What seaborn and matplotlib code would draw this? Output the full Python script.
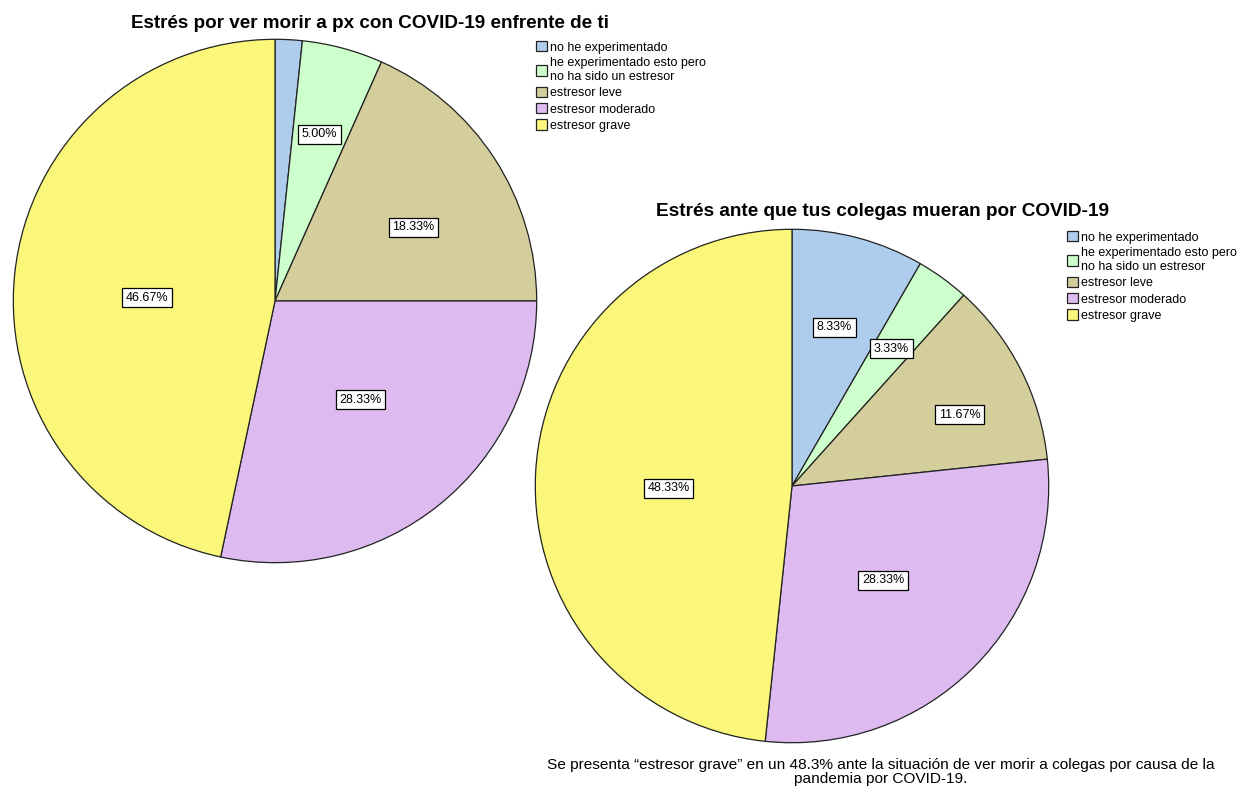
import matplotlib
matplotlib.use("Agg")
import matplotlib.pyplot as plt
import numpy as np
import seaborn as sns

sns.set_theme(style="white")
plt.rcParams["font.family"] = ["Liberation Sans", "DejaVu Sans"]
plt.rcParams["text.color"] = "black"

categories = [
    "no he experimentado",
    "he experimentado esto pero\nno ha sido un estresor",
    "estresor leve",
    "estresor moderado",
    "estresor grave",
]
colors = ["#AECDEC", "#CCFFCC", "#D3CE9C", "#DDBAF0", "#FAF77A"]

title_px = "Estrés por ver morir a px con COVID-19 enfrente de ti"
values_px = [1.67, 5.00, 18.33, 28.33, 46.67]
shown_px = [False, True, True, True, True]

title_col = "Estrés ante que tus colegas mueran por COVID-19"
values_col = [8.33, 3.33, 11.67, 28.33, 48.33]
shown_col = [True, True, True, True, True]

caption = ("Se presenta \u201cestresor grave\u201d en un 48.3% ante la situación de ver morir a colegas por causa de la\n"
           "pandemia por COVID-19.")

# label placement: radial distance and small angular nudge (degrees, clockwise)
label_r_px = [0.66, 0.66, 0.60, 0.50, 0.49]
label_da_px = [0, 0, 5, -2, -4.5]
label_r_col = [0.64, 0.66, 0.71, 0.51, 0.48]
label_da_col = [0, 0, 4, 1, -4]

W, H = 1244, 787
fig = plt.figure(figsize=(W / 100, H / 100), dpi=100)
fig.patch.set_facecolor("white")


def px_axes(x0, y0, x1, y1):
    return fig.add_axes([x0 / W, 1 - y1 / H, (x1 - x0) / W, (y1 - y0) / H])


def draw_pie(ax, values, shown, radii, nudges):
    wedges, _, autotexts = ax.pie(
        values, colors=colors, startangle=90, counterclock=False,
        radius=1.0, autopct="%.2f%%", pctdistance=0.6,
        wedgeprops=dict(edgecolor="#222222", linewidth=0.9),
        textprops=dict(fontsize=9, color="black"),
    )
    for w, t, s, r, da in zip(wedges, autotexts, shown, radii, nudges):
        if not s:
            t.set_visible(False)
            continue
        ang = np.deg2rad((w.theta1 + w.theta2) / 2 - da)
        t.set_position((r * np.cos(ang), r * np.sin(ang)))
        t.set_bbox(dict(boxstyle="square,pad=0.28", facecolor="white",
                        edgecolor="black", linewidth=0.9))
    ax.set_xlim(-1.005, 1.005)
    ax.set_ylim(-1.005, 1.005)
    ax.set_axis_off()
    return wedges


ax1 = px_axes(12, 38, 538, 564)
w1 = draw_pie(ax1, values_px, shown_px, label_r_px, label_da_px)
ax2 = px_axes(534, 228, 1050, 744)
w2 = draw_pie(ax2, values_col, shown_col, label_r_col, label_da_col)

fig.text(370 / W, 1 - 23 / H, title_px, ha="center", va="center",
         fontsize=13.6, fontweight="bold")
fig.text(883 / W, 1 - 212 / H, title_col, ha="center", va="center",
         fontsize=13.7, fontweight="bold")

for wedges, (lx, ly) in ((w1, (536, 41)), (w2, (1067, 231))):
    fig.legend(wedges, categories, loc="upper left",
               bbox_to_anchor=(lx / W, 1 - ly / H), frameon=False,
               fontsize=9, handlelength=0.9, handleheight=0.9,
               handletextpad=0.25, labelspacing=0.3, borderpad=0,
               borderaxespad=0)

fig.text(881 / W, 1 - 772 / H, caption, ha="center", va="center",
         fontsize=11.1, linespacing=0.95)

fig.savefig("out.png", dpi=100, facecolor="white")
